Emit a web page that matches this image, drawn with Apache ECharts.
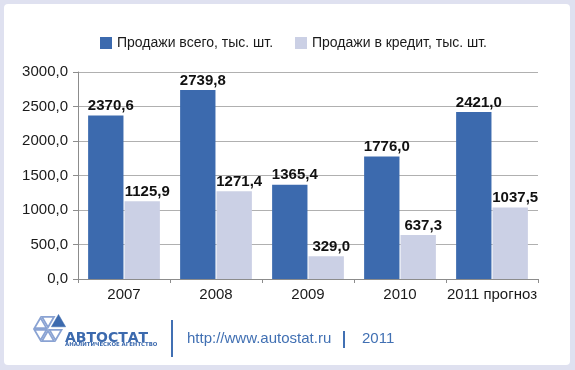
<!DOCTYPE html>
<html>
<head>
<meta charset="utf-8">
<script src="https://cdn.jsdelivr.net/npm/echarts@6/dist/echarts.min.js"></script>
<style>
html,body{margin:0;padding:0;background:#dfe1f0;}
#chart{width:575px;height:370px;}
</style>
</head>
<body>
<div id="chart"></div>
<script>
var categories = ['2007', '2008', '2009', '2010', '2011 прогноз'];
var seriesNames = ['Продажи всего, тыс. шт.', 'Продажи в кредит, тыс. шт.'];
var salesTotal = [2370.6, 2739.8, 1365.4, 1776.0, 2421.0];
var salesCredit = [1125.9, 1271.4, 329.0, 637.3, 1037.5];
var yTicks = [0, 500, 1000, 1500, 2000, 2500, 3000];
var footerUrl = 'http://www.autostat.ru';
var footerYear = '2011';
var brandName = 'АВТОСТАТ';
var brandSub = 'АНАЛИТИЧЕСКОЕ АГЕНТСТВО';

var FONT = "'Liberation Sans',Arial,Helvetica,sans-serif";
var BLUE = '#3c6aae';
var LIGHT = '#cbd0e5';
var FOOT = '#4170b3';

function fmt(v){ return Number(v).toFixed(1).replace('.', ','); }

// logo hexagon triangles
var cx = 48, cy = 329, R = 15;
var verts = [];
for (var i = 0; i < 6; i++) {
  var a = Math.PI / 180 * (60 * i);
  verts.push([cx + R * Math.cos(a), cy - R * Math.sin(a)]);
}
var logoEls = [];
for (var k = 0; k < 6; k++) {
  var p1 = verts[k], p2 = verts[(k + 1) % 6];
  var tri = [[cx, cy], p1, p2];
  var gx = (cx + p1[0] + p2[0]) / 3, gy = (cy + p1[1] + p2[1]) / 3;
  var s = k === 0 ? 0.95 : 0.8;
  var dx = k === 0 ? 3 : 0, dy = k === 0 ? -2 : 0;
  var pts = tri.map(function(p){ return [gx + (p[0] - gx) * s + dx, gy + (p[1] - gy) * s + dy]; });
  logoEls.push({
    type: 'polygon',
    shape: { points: pts },
    style: k === 0 ? { fill: BLUE, stroke: BLUE, lineWidth: 0.5 } : { fill: 'none', stroke: '#8aa3d3', lineWidth: 1.8 },
    silent: true
  });
}

var labelStyle = {
  show: true, position: 'top', distance: 2, offset: [5, 0],
  formatter: function(p){ return fmt(p.value); },
  fontFamily: FONT, fontWeight: 'bold', fontSize: 15, color: '#111'
};

var chart = echarts.init(document.getElementById('chart'), null, { renderer: 'canvas' });
chart.setOption({
  animation: false,
  backgroundColor: '#dfe1f0',
  graphic: [
    { type: 'rect', z: -10, shape: { x: 4, y: 4, width: 566, height: 361, r: 4 }, style: { fill: '#ffffff' }, silent: true }
  ].concat(logoEls).concat([
    { type: 'text', left: 65, top: 331, style: { text: brandName, fill: BLUE, font: "bold 14px 'DejaVu Sans',sans-serif" }, silent: true },
    { type: 'text', left: 65, top: 342, style: { text: brandSub, fill: BLUE, font: "bold 5.4px 'DejaVu Sans',sans-serif" }, silent: true },
    { type: 'rect', shape: { x: 171, y: 320, width: 2, height: 37 }, style: { fill: FOOT }, silent: true },
    { type: 'text', left: 187, top: 331, style: { text: footerUrl, fill: FOOT, font: "15px " + FONT }, silent: true },
    { type: 'rect', shape: { x: 343, y: 331, width: 2, height: 17 }, style: { fill: FOOT }, silent: true },
    { type: 'text', left: 362, top: 331, style: { text: footerYear, fill: FOOT, font: "15px " + FONT }, silent: true }
  ]),
  legend: {
    left: 95, top: 31,
    itemWidth: 12, itemHeight: 12, itemGap: 22,
    icon: 'rect',
    textStyle: { fontFamily: FONT, fontSize: 14, color: '#1a1a1a' },
    data: seriesNames
  },
  grid: { left: 78, right: 37, top: 72, bottom: 91, containLabel: false },
  xAxis: {
    type: 'category',
    data: categories,
    axisLine: { lineStyle: { color: '#8c8c8c', width: 1 } },
    axisTick: { show: true, length: 4, lineStyle: { color: '#8c8c8c' } },
    axisLabel: { fontFamily: FONT, fontSize: 15, color: '#1a1a1a', margin: 8, interval: 0 }
  },
  yAxis: {
    type: 'value',
    min: yTicks[0], max: yTicks[yTicks.length - 1], interval: yTicks[1] - yTicks[0],
    axisLine: { show: true, lineStyle: { color: '#8c8c8c', width: 1 } },
    axisTick: { show: true, length: 5, lineStyle: { color: '#8c8c8c' } },
    axisLabel: { fontFamily: FONT, fontSize: 15, color: '#1a1a1a', margin: 10, formatter: fmt },
    splitLine: { lineStyle: { color: '#b0b0b0', width: 1 } }
  },
  series: [
    {
      name: seriesNames[0], type: 'bar', data: salesTotal,
      barCategoryGap: '22%', barGap: '3%',
      itemStyle: { color: BLUE },
      label: labelStyle
    },
    {
      name: seriesNames[1], type: 'bar', data: salesCredit,
      barCategoryGap: '22%', barGap: '3%',
      itemStyle: { color: LIGHT },
      label: labelStyle
    }
  ]
});
</script>
</body>
</html>
